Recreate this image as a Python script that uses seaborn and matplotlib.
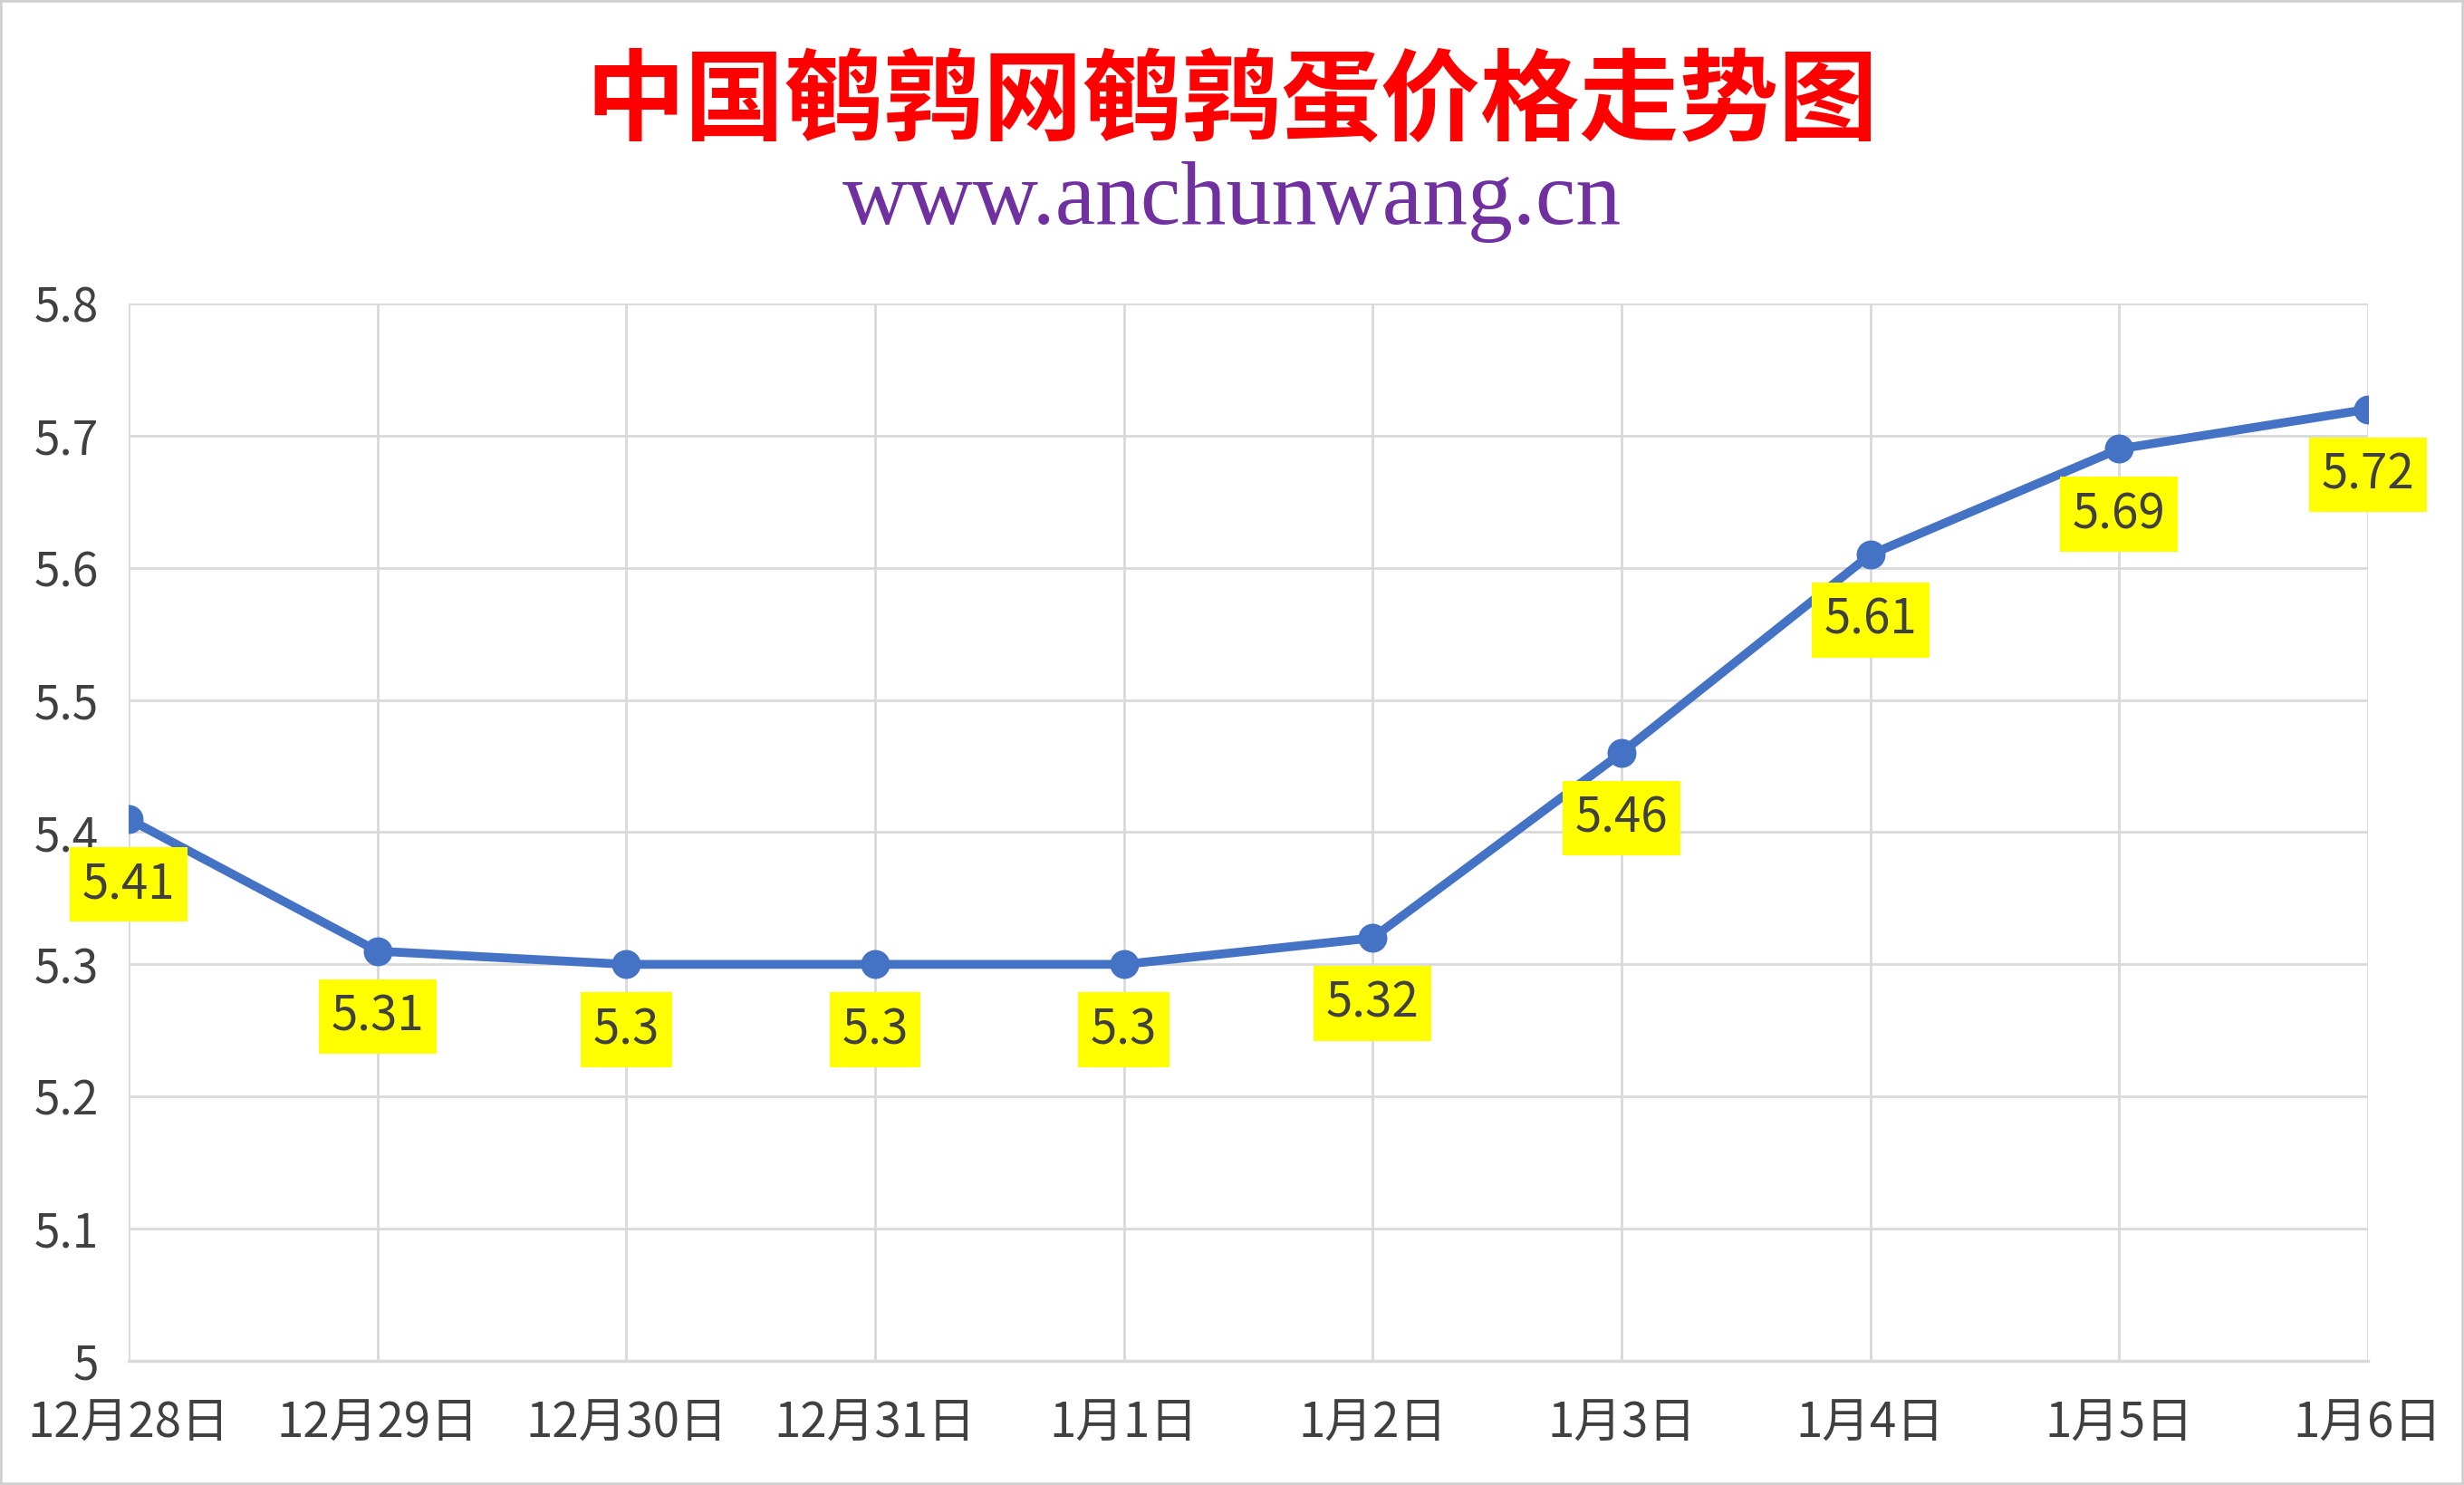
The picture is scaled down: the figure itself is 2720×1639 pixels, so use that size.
import pandas as pd
import seaborn as sns
import matplotlib.pyplot as plt
from matplotlib.patches import Rectangle

dates = ['12月28日', '12月29日', '12月30日', '12月31日', '1月1日',
         '1月2日', '1月3日', '1月4日', '1月5日', '1月6日']
prices = [5.41, 5.31, 5.3, 5.3, 5.3, 5.32, 5.46, 5.61, 5.69, 5.72]
y_ticks = [5.0, 5.1, 5.2, 5.3, 5.4, 5.5, 5.6, 5.7, 5.8]
y_tick_labels = ['5', '5.1', '5.2', '5.3', '5.4', '5.5', '5.6', '5.7', '5.8']

df = pd.DataFrame({'pos': range(len(dates)), 'date': dates, 'price': prices})

sns.set_style('white')
plt.rcParams['font.family'] = ['Noto Sans CJK SC', 'DejaVu Sans']

fig = plt.figure(figsize=(27.2, 16.39), dpi=100)
ax = fig.add_axes([0.0522, 0.0836, 0.9088, 0.712])

sns.lineplot(data=df, x='pos', y='price', ax=ax, color='#4472C4', linewidth=7,
             marker='o', markersize=23, markeredgewidth=0, zorder=3)

ax.set_xlim(0, len(dates) - 1)
ax.set_ylim(5.0, 5.8)
ax.set_xticks(df['pos'])
ax.set_xticklabels(dates)
ax.set_yticks(y_ticks)
ax.set_yticklabels(y_tick_labels)
ax.set_xlabel('')
ax.set_ylabel('')
ax.grid(True, color='#D9D9D9', linewidth=2)
ax.tick_params(axis='both', length=0, labelsize=37, colors='#404040')
ax.tick_params(axis='x', labelsize=38, pad=30)
ax.tick_params(axis='y', pad=24)
for side in ['top', 'right', 'left']:
    ax.spines[side].set_visible(False)
ax.spines['bottom'].set_color('#D9D9D9')
ax.spines['bottom'].set_linewidth(2.5)

# data labels below points, yellow boxes
for x, y in zip(df['pos'], df['price']):
    ax.annotate(f'{y:g}', (x, y), xytext=(0, -52), textcoords='offset points',
                ha='center', va='center', fontsize=38, color='#404040', zorder=5,
                bbox=dict(boxstyle='square,pad=0.26', facecolor='#FFFF00', edgecolor='none'))

fig.text(0.5, 1 - 114 / 1639, '中国鹌鹑网鹌鹑蛋价格走势图', ha='center', va='center',
         fontsize=79, color='#FF0000', fontweight='bold')
fig.text(0.5, 1 - 223 / 1639, 'www.anchunwang.cn', ha='center', va='center',
         fontsize=72, color='#7030A0', family='Liberation Serif')

fig.patches.append(Rectangle((0, 0), 1, 1, transform=fig.transFigure, fill=False,
                             edgecolor='#D0D0D0', linewidth=4))

fig.savefig('out.png', dpi=100, facecolor='white')
